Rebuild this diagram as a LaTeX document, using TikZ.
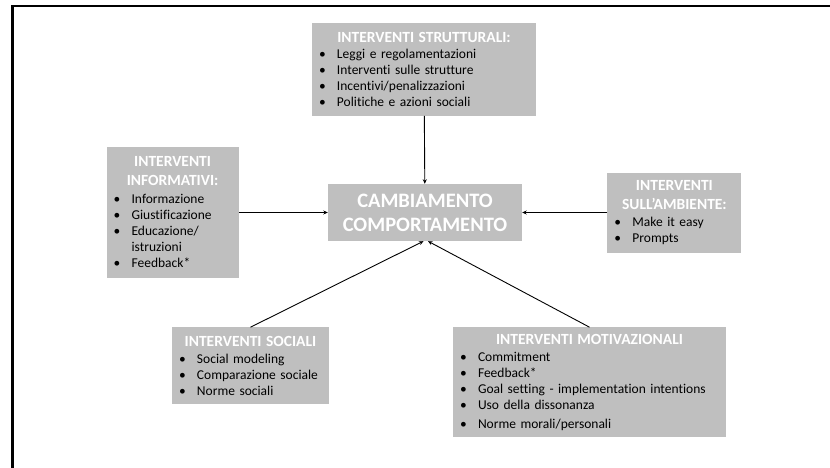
\documentclass[tikz,border=0pt]{standalone}
\usepackage{fontspec}
\setmainfont{Carlito}[Ligatures=NoCommon]
\usetikzlibrary{arrows.meta,positioning}
\definecolor{boxgray}{RGB}{191,191,191}
\newcommand{\boxhead}[1]{\makebox[\hsize][c]{\fontsize{15.5}{19}\selectfont\bfseries\color{white}#1}}
\newcommand{\boxitem}[1]{\makebox[18pt][l]{\textbullet}#1}
\tikzset{
    diagrambox/.style={fill=boxgray, align=left, inner xsep=7pt, inner ysep=0pt, font=\fontsize{13.5}{16}\selectfont},
    diagramcenter/.style={fill=boxgray, align=center, inner sep=0pt, text=white, font=\fontsize{20.5}{24}\selectfont\bfseries, minimum width=194pt, minimum height=57pt},
    diagramarrow/.style={-{Stealth[length=4.5pt,width=4pt]}, line width=0.9pt}
}

\begin{document}
\begin{tikzpicture}[x=1pt, y=-1pt]
        \useasboundingbox (0,0) rectangle (830,468);
        \draw[line width=2.6pt] (12.5,468) -- (12.5,6) -- (830,6);
        \node[diagramcenter] (change) at (425,212.5) {CAMBIAMENTO\\COMPORTAMENTO};
        \node[diagrambox, text width=210pt, minimum height=93pt, above=68pt of change, xshift=-1pt] (struct) {\boxhead{INTERVENTI STRUTTURALI:}\\
            \boxitem{Leggi e regolamentazioni}\\
            \boxitem{Interventi sulle strutture}\\
            \boxitem{Incentivi/penalizzazioni}\\
            \boxitem{Politiche e azioni sociali}};
        \node[diagrambox, text width=118pt, minimum height=131pt, left=89pt of change] (info) {\boxhead{INTERVENTI}\\[3pt]
            \boxhead{INFORMATIVI:}\\[2pt]
            \boxitem{Informazione}\\
            \boxitem{Giustificazione}\\
            \boxitem{Educazione/}\\
            \hspace*{18pt}istruzioni\\
            \boxitem{Feedback*}};
        \node[diagrambox, text width=120pt, minimum height=80pt, right=85pt of change] (env) {\boxhead{INTERVENTI}\\[3pt]
            \boxhead{SULL’AMBIENTE:}\\[1pt]
            \boxitem{Make it easy}\\
            \boxitem{Prompts}};
        \node[diagrambox, text width=143pt, minimum height=77pt, below=86pt of change, xshift=-174.5pt] (social) {\boxhead{INTERVENTI SOCIALI}\\[1pt]
            \boxitem{Social modeling}\\
            \boxitem{Comparazione sociale}\\
            \boxitem{Norme sociali}};
        \node[diagrambox, text width=259pt, minimum height=110pt, below=86pt of change, xshift=164.5pt] (motiv) {\boxhead{INTERVENTI MOTIVAZIONALI}\\[1pt]
            \boxitem{Commitment}\\
            \boxitem{Feedback*}\\
            \boxitem{Goal setting - implementation intentions}\\
            \boxitem{Uso della dissonanza}\\[3pt]
            \boxitem{Norme morali/personali}};
        \draw[diagramarrow] (struct) -- (change);
        \draw[diagramarrow] (info) -- (change);
        \draw[diagramarrow] (env) -- (change);
        \draw[diagramarrow] (social.north) -- ([xshift=-1.5pt]change.south);
        \draw[diagramarrow] (motiv.north) -- ([xshift=3pt]change.south);
    \end{tikzpicture}
\end{document}
